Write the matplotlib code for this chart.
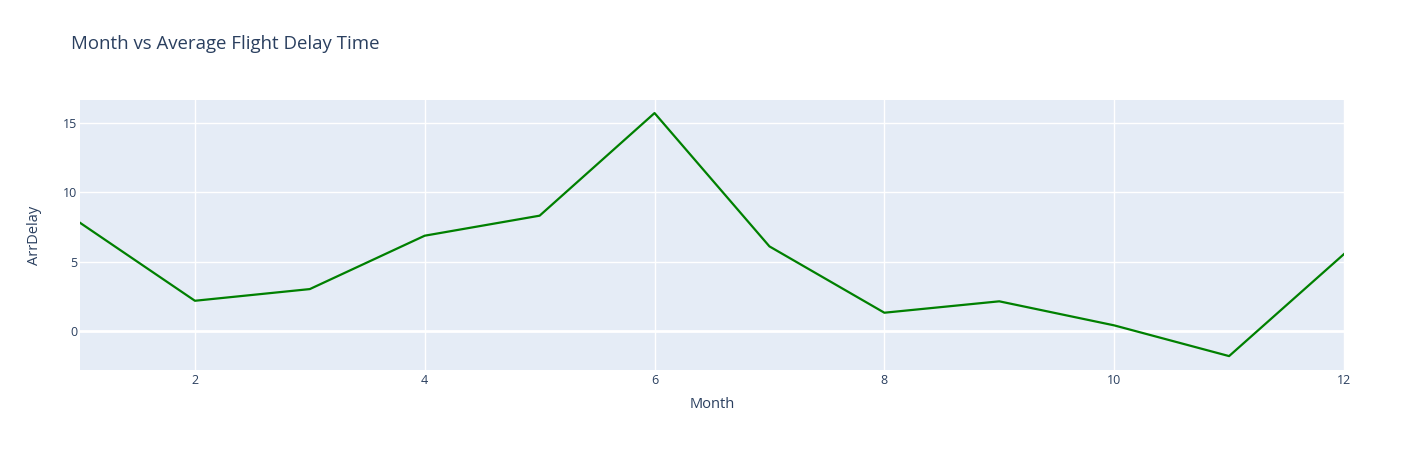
import matplotlib
matplotlib.use("Agg")
import matplotlib.pyplot as plt

months = [1, 2, 3, 4, 5, 6, 7, 8, 9, 10, 11, 12]
arr_delay = [7.81, 2.20, 3.04, 6.88, 8.32, 15.70, 6.11, 1.34, 2.16, 0.43, -1.78, 5.56]

x_ticks = [2, 4, 6, 8, 10, 12]
y_ticks = [0, 5, 10, 15]

text_color = "#2a3f5f"
plt.rcParams["font.family"] = ["Open Sans", "DejaVu Sans"]

fig = plt.figure(figsize=(14.24, 4.5), dpi=100)
W, H = 1424, 450
left, right, top, bottom = 80, 1344, 100, 370
ax = fig.add_axes([left / W, (H - bottom) / H, (right - left) / W, (bottom - top) / H])
ax.set_facecolor("#E5ECF6")

# grid lines (plotly style)
for x in x_ticks:
    ax.axvline(x, color="white", lw=1, zorder=1)
for y in y_ticks:
    ax.axhline(y, color="white", lw=2 if y == 0 else 1, zorder=1)

ax.plot(months, arr_delay, color="green", lw=1.6, zorder=3)

ax.set_xlim(1, 12)
ax.set_ylim(-2.78, 16.64)
ax.set_xticks(x_ticks)
ax.set_yticks(y_ticks)
ax.tick_params(length=0, labelsize=9, colors=text_color)
ax.tick_params(axis="x", pad=3)
ax.tick_params(axis="y", pad=2)
for s in ax.spines.values():
    s.set_visible(False)

ax.set_xlabel("Month", fontsize=10.5, color=text_color, va="center")
ax.xaxis.set_label_coords(0.5, (bottom - 405) / (bottom - top))
ax.set_ylabel("ArrDelay", fontsize=10.5, color=text_color, va="center")
ax.yaxis.set_label_coords((35 - left) / (right - left), 0.5)

fig.text(71 / W, 1 - 44 / H, "Month vs Average Flight Delay Time",
         fontsize=13.4, color=text_color, va="center", ha="left")

fig.savefig("out.png", dpi=100)
